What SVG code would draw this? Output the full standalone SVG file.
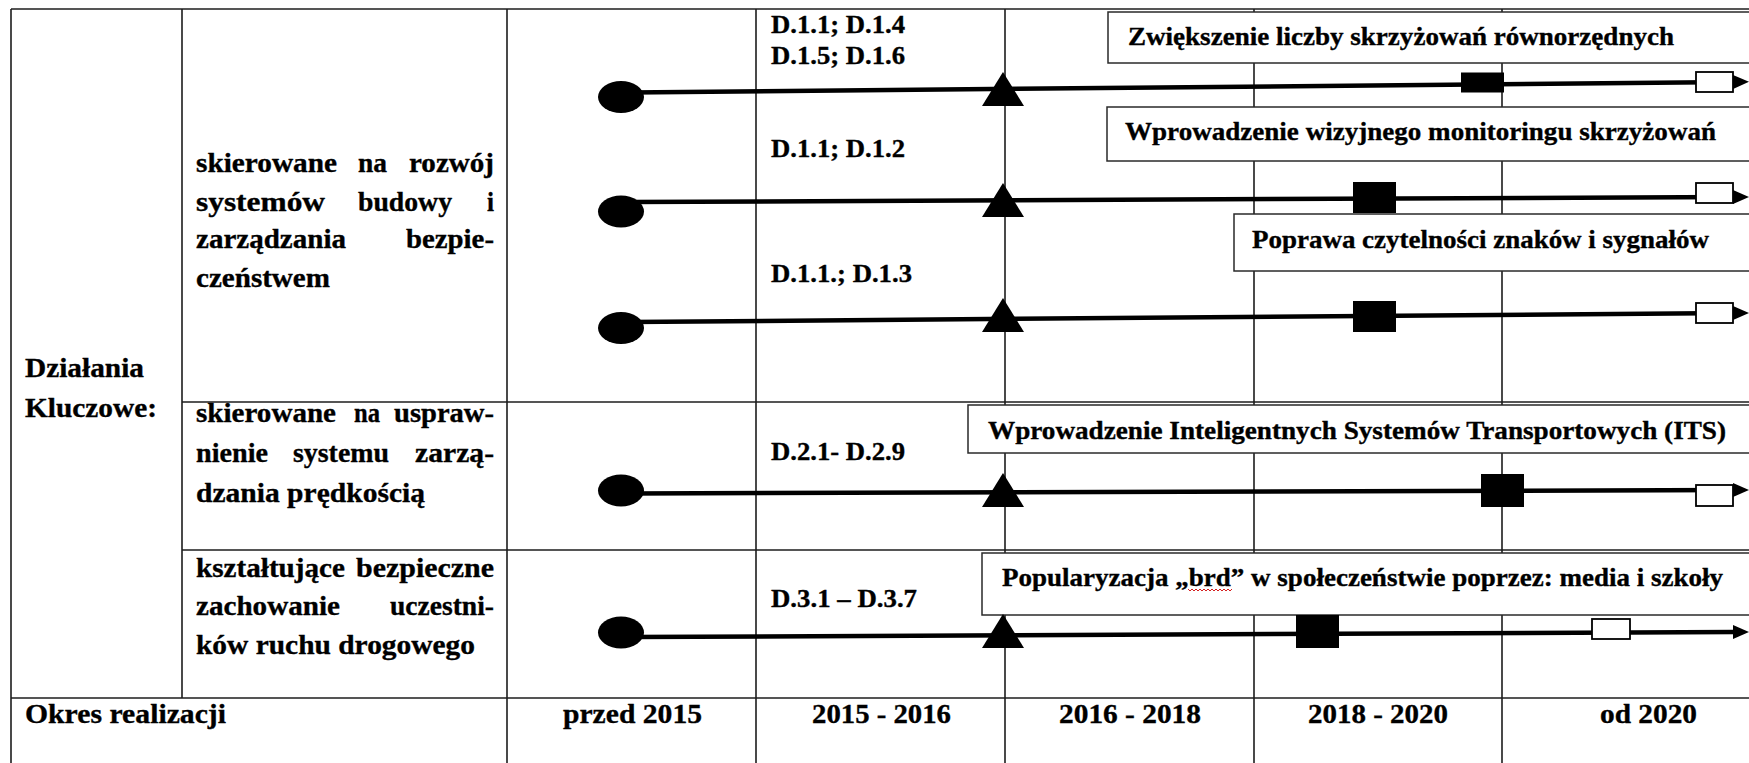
<svg xmlns="http://www.w3.org/2000/svg" width="1749" height="763" viewBox="0 0 1749 763">
  <style>
    .grid line { stroke: #1c1c1c; stroke-width: 1.6; }
    .t { font-family: "Liberation Serif", "Times New Roman", serif; font-weight: bold; fill: #000; stroke: #000; stroke-width: 0.35; }
    .cell { font-size: 28px; }
    .code { font-size: 25px; }
    .lbl { font-size: 25px; }
    .box { fill: #fff; stroke: #2a2a2a; stroke-width: 1.5; }
    .tl { stroke: #000; stroke-width: 4.5; fill: none; marker-end: url(#arrow); }
    .dot { fill: #000; }
    .fsq { fill: #000; }
    .osq { fill: #fff; stroke: #000; stroke-width: 1.8; }
  </style>
  <defs>
    <marker id="arrow" markerUnits="userSpaceOnUse" markerWidth="16" markerHeight="14" refX="2" refY="7" orient="auto">
      <path d="M0,0 L16,7 L0,14 z" fill="#000"/>
    </marker>
    <polygon id="tri" points="-21,0 0,-34 21,0" fill="#000"/>
  </defs>

  <rect width="1749" height="763" fill="#fff"/>

  <!-- table grid -->
  <g id="grid" class="grid">
    <line x1="11" y1="9" x2="1749" y2="9"/>
    <line x1="182" y1="402" x2="1749" y2="402"/>
    <line x1="182" y1="550" x2="1749" y2="550"/>
    <line x1="11" y1="698" x2="1749" y2="698"/>
    <line x1="11" y1="9" x2="11" y2="763"/>
    <line x1="182" y1="9" x2="182" y2="698"/>
    <line x1="507" y1="9" x2="507" y2="763"/>
    <line x1="756" y1="9" x2="756" y2="763"/>
    <line x1="1005" y1="9" x2="1005" y2="763"/>
    <line x1="1254" y1="9" x2="1254" y2="763"/>
    <line x1="1502" y1="9" x2="1502" y2="763"/>
  </g>

  <!-- row headers -->
  <g id="header-main" class="t cell">
    <text x="25" y="377" textLength="119" lengthAdjust="spacingAndGlyphs">Działania</text>
    <text x="25" y="417" textLength="132" lengthAdjust="spacingAndGlyphs">Kluczowe:</text>
  </g>

  <g id="header-group-1" class="t cell">
    <text x="196" y="172" textLength="141" lengthAdjust="spacingAndGlyphs">skierowane</text>
    <text x="358" y="172" textLength="29" lengthAdjust="spacingAndGlyphs">na</text>
    <text x="409" y="172" textLength="85" lengthAdjust="spacingAndGlyphs">rozwój</text>
    <text x="196" y="211" textLength="129" lengthAdjust="spacingAndGlyphs">systemów</text>
    <text x="358" y="211" textLength="94" lengthAdjust="spacingAndGlyphs">budowy</text>
    <text x="487" y="211" textLength="7" lengthAdjust="spacingAndGlyphs">i</text>
    <text x="196" y="248" textLength="150" lengthAdjust="spacingAndGlyphs">zarządzania</text>
    <text x="406" y="248" textLength="88" lengthAdjust="spacingAndGlyphs">bezpie-</text>
    <text x="196" y="287" textLength="134" lengthAdjust="spacingAndGlyphs">czeństwem</text>
  </g>

  <g id="header-group-2" class="t cell">
    <text x="196" y="422" textLength="140" lengthAdjust="spacingAndGlyphs">skierowane</text>
    <text x="354" y="422" textLength="26" lengthAdjust="spacingAndGlyphs">na</text>
    <text x="394" y="422" textLength="100" lengthAdjust="spacingAndGlyphs">uspraw-</text>
    <text x="196" y="462" textLength="72" lengthAdjust="spacingAndGlyphs">nienie</text>
    <text x="293" y="462" textLength="96" lengthAdjust="spacingAndGlyphs">systemu</text>
    <text x="415" y="462" textLength="79" lengthAdjust="spacingAndGlyphs">zarzą-</text>
    <text x="196" y="502" textLength="229" lengthAdjust="spacingAndGlyphs">dzania prędkością</text>
  </g>

  <g id="header-group-3" class="t cell">
    <text x="196" y="577" textLength="149" lengthAdjust="spacingAndGlyphs">kształtujące</text>
    <text x="356" y="577" textLength="138" lengthAdjust="spacingAndGlyphs">bezpieczne</text>
    <text x="196" y="615" textLength="144" lengthAdjust="spacingAndGlyphs">zachowanie</text>
    <text x="390" y="615" textLength="104" lengthAdjust="spacingAndGlyphs">uczestni-</text>
    <text x="196" y="654" textLength="279" lengthAdjust="spacingAndGlyphs">ków ruchu drogowego</text>
  </g>

  <!-- period row -->
  <g id="periods" class="t cell">
    <text x="25" y="723" textLength="201" lengthAdjust="spacingAndGlyphs">Okres realizacji</text>
    <text x="563" y="723" textLength="139" lengthAdjust="spacingAndGlyphs">przed 2015</text>
    <text x="812" y="723" textLength="139" lengthAdjust="spacingAndGlyphs">2015 - 2016</text>
    <text x="1059" y="723" textLength="142" lengthAdjust="spacingAndGlyphs">2016 - 2018</text>
    <text x="1308" y="723" textLength="140" lengthAdjust="spacingAndGlyphs">2018 - 2020</text>
    <text x="1600" y="723" textLength="97" lengthAdjust="spacingAndGlyphs">od 2020</text>
  </g>

  <!-- action codes -->
  <g id="codes" class="t code">
    <text x="771" y="33" textLength="134" lengthAdjust="spacingAndGlyphs">D.1.1; D.1.4</text>
    <text x="771" y="64" textLength="134" lengthAdjust="spacingAndGlyphs">D.1.5; D.1.6</text>
    <text x="771" y="157" textLength="134" lengthAdjust="spacingAndGlyphs">D.1.1; D.1.2</text>
    <text x="771" y="282" textLength="141" lengthAdjust="spacingAndGlyphs">D.1.1.; D.1.3</text>
    <text x="771" y="460" textLength="134" lengthAdjust="spacingAndGlyphs">D.2.1- D.2.9</text>
    <text x="771" y="607" textLength="146" lengthAdjust="spacingAndGlyphs">D.3.1 – D.3.7</text>
  </g>

  <!-- goal boxes -->
  <g id="box-1">
    <rect class="box" x="1108" y="12" width="660" height="51"/>
    <text class="t lbl" x="1128" y="45" textLength="546" lengthAdjust="spacingAndGlyphs">Zwiększenie liczby skrzyżowań równorzędnych</text>
  </g>
  <g id="box-2">
    <rect class="box" x="1107" y="107" width="660" height="54"/>
    <text class="t lbl" x="1125" y="140" textLength="591" lengthAdjust="spacingAndGlyphs">Wprowadzenie wizyjnego monitoringu skrzyżowań</text>
  </g>
  <g id="box-3">
    <rect class="box" x="1234" y="214" width="540" height="57"/>
    <text class="t lbl" x="1252" y="248" textLength="457" lengthAdjust="spacingAndGlyphs">Poprawa czytelności znaków i sygnałów</text>
  </g>
  <g id="box-4">
    <rect class="box" x="968" y="405" width="800" height="48"/>
    <text class="t lbl" x="988" y="439" textLength="738" lengthAdjust="spacingAndGlyphs">Wprowadzenie Inteligentnych Systemów Transportowych (ITS)</text>
  </g>
  <g id="box-5">
    <rect class="box" x="982" y="553" width="800" height="62"/>
    <text class="t lbl" x="1002" y="586" textLength="721" lengthAdjust="spacingAndGlyphs">Popularyzacja „brd” w społeczeństwie poprzez: media i szkoły</text>
    <polyline points="1188,589 1190,591 1192,589 1194,591 1196,589 1198,591 1200,589 1202,591 1204,589 1206,591 1208,589 1210,591 1212,589 1214,591 1216,589 1218,591 1220,589 1222,591 1224,589 1226,591 1228,589 1230,591 1232,589" fill="none" stroke="#d42020" stroke-width="1"/>
  </g>

  <!-- timelines -->
  <g id="connectors">
    <path class="tl" d="M630,92.5 L1735,82"/>
    <path class="tl" d="M630,202 L1735,197"/>
    <path class="tl" d="M630,322 L1735,313"/>
    <path class="tl" d="M630,493.5 L1735,490"/>
    <path class="tl" d="M630,637 L1735,632"/>
  </g>

  <!-- milestones per timeline -->
  <g id="timeline-1">
    <ellipse class="dot" cx="621" cy="97" rx="23" ry="16"/>
    <use href="#tri" x="1003" y="106"/>
    <rect class="fsq" x="1461" y="72.5" width="43" height="20"/>
    <rect class="osq" x="1696" y="72" width="37" height="20"/>
  </g>
  <g id="timeline-2">
    <ellipse class="dot" cx="621" cy="211.5" rx="23" ry="16"/>
    <use href="#tri" x="1003" y="217"/>
    <rect class="fsq" x="1353" y="182" width="43" height="31"/>
    <rect class="osq" x="1696" y="183" width="37" height="20"/>
  </g>
  <g id="timeline-3">
    <ellipse class="dot" cx="621" cy="328" rx="23" ry="16"/>
    <use href="#tri" x="1003" y="332"/>
    <rect class="fsq" x="1353" y="301" width="43" height="31"/>
    <rect class="osq" x="1696" y="303" width="37" height="20"/>
  </g>
  <g id="timeline-4">
    <ellipse class="dot" cx="621" cy="490.5" rx="23" ry="16"/>
    <use href="#tri" x="1003" y="507"/>
    <rect class="fsq" x="1481" y="474" width="43" height="33"/>
    <rect class="osq" x="1696" y="485" width="37" height="21"/>
  </g>
  <g id="timeline-5">
    <ellipse class="dot" cx="621" cy="632.5" rx="23" ry="16"/>
    <use href="#tri" x="1003" y="648"/>
    <rect class="fsq" x="1296" y="615" width="43" height="33"/>
    <rect class="osq" x="1592" y="619" width="38" height="20"/>
  </g>
</svg>
